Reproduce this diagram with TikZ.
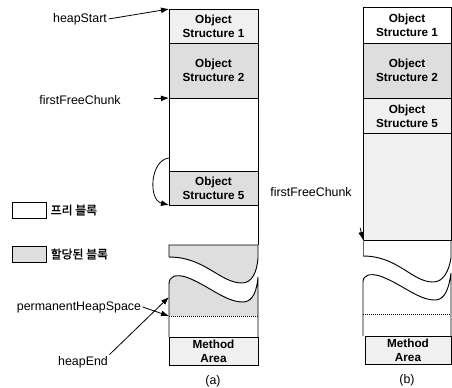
\documentclass[tikz,border=0pt]{standalone}
\usepackage{fontspec}
\setmainfont{Liberation Sans}
\newfontfamily\krfont{Noto Sans CJK KR}[FakeBold=1.4]
\usepackage{tikz}
\usetikzlibrary{arrows.meta, positioning}
\definecolor{Stipple}{gray}{0.87}
\definecolor{LightStipple}{gray}{0.94}
\tikzset{
  cell/.style={draw, line width=0.7pt},
  alloc/.style={cell, fill=Stipple},
  objlabel/.style={align=center, inner sep=0pt, font=\fontsize{8.8}{10.5}\selectfont\bfseries},
  ptr/.style={inner sep=1pt, font=\fontsize{9.3}{11}\selectfont},
  ptrarrow/.style={-{Latex[length=6pt,width=4.4pt]}, line width=0.6pt},
  keybox/.style={cell, minimum width=25.5pt, minimum height=12pt, inner sep=0pt},
  keytext/.style={inner sep=0pt, font=\krfont\fontsize{8.9}{10}\selectfont},
}

\begin{document}
\begin{tikzpicture}[x=0.75pt, y=-0.75pt]
    \useasboundingbox (0,0) rectangle (452,387);

    % column (a)
    \draw[cell, fill=LightStipple] (169,9) rectangle (258,43);
    \draw[alloc] (169,43) rectangle (258,98);
    \draw[cell] (169,98) rectangle (258,171);
    \draw[alloc] (169,171) rectangle (258,205);
    \draw[cell] (258,205) -- (258,245);
    \draw[alloc] (169,257) .. controls (205,257) and (220,283) .. (242,283)
        .. controls (252,283) and (257,272) .. (258,258) -- (258,245) -- (169,245) -- cycle;
    \fill[Stipple] (169,316) -- (169,284) .. controls (169,276) and (176,274) .. (186,277)
        .. controls (208,285) and (225,302) .. (243,302) .. controls (253,302) and (257,290) .. (258,277)
        -- (258,316) -- cycle;
    \draw[cell] (169,337) -- (169,284) .. controls (169,276) and (176,274) .. (186,277)
        .. controls (208,285) and (225,302) .. (243,302) .. controls (253,302) and (257,290) .. (258,277)
        -- (258,337);
    \draw[densely dotted, line width=0.5pt] (169,316) -- (258,316);
    \draw[cell, fill=LightStipple] (169,337) rectangle (258,365);

    \node[objlabel] (os1a) at (213.5,26) {Object\\Structure 1};
    \node[objlabel] (os2a) at (213.5,70) {Object\\Structure 2};
    \node[objlabel] (os5a) at (213.5,188) {Object\\Structure 5};
    \node[objlabel] (mada) at (213.5,351) {Method\\Area};

    % column (b)
    \draw[cell] (363,7) rectangle (451,43);
    \draw[alloc] (363,43) rectangle (451,98);
    \draw[cell, fill=LightStipple] (363,98) rectangle (451,133);
    \draw[cell, fill=LightStipple] (363,133) rectangle (451,240);
    \draw[line width=0.4pt, black!60] (363,240) -- (363,256);
    \draw[cell] (363,256) .. controls (398,256) and (412,282) .. (433,282)
        .. controls (444,282) and (449,270) .. (451,258) -- (451,240);
    \draw[cell] (363,336) -- (363,282) .. controls (363,275) and (370,273) .. (380,276)
        .. controls (402,284) and (418,300) .. (435,300) .. controls (445,300) and (449,288) .. (451,273)
        -- (451,336);
    \draw[densely dotted, line width=0.5pt] (363,314) -- (451,314);
    \draw[cell, fill=LightStipple] (365,336) rectangle (451,364);

    \node[objlabel] (os1b) at (407,25) {Object\\Structure 1};
    \node[objlabel] (os2b) at (407,70) {Object\\Structure 2};
    \node[objlabel] (os5b) at (407,116) {Object\\Structure 5};
    \node[objlabel] (madb) at (408,350) {Method\\Area};

    % pointers
    \coordinate (topa) at (169,9);
    \coordinate (freea) at (169,98);
    \coordinate (loopstart) at (169,158);
    \coordinate (os5corner) at (169,205);
    \coordinate (permtip) at (169,316);
    \coordinate (endtip) at (169,297);
    \coordinate (freeb) at (363,240);

    \node[ptr] (heapstart) at (80,19) {heapStart};
    \node[ptr] (ffca) at (80,100) {firstFreeChunk};
    \node[ptr] (permspace) at (79,307) {permanentHeapSpace};
    \node[ptr] (heapend) at (83,362) {heapEnd};
    \node[ptr] (ffcb) at (311,192) {firstFreeChunk};

    \draw[ptrarrow] (heapstart.east) -- (topa);
    \draw[ptrarrow, shorten <=24pt] (ffca.east) -- (freea);
    \draw[ptrarrow] (loopstart) .. controls (150,160) and (148,200) .. (os5corner);
    \draw[ptrarrow] (permspace.east) -- (permtip);
    \draw[ptrarrow] (heapend.north east) -- (endtip);
    \draw[ptrarrow, shorten <=23pt] (ffcb.south east) -- (freeb);

    % legend
    \node[keybox] (freekey) at (29,210) {};
    \node[keytext, right=3pt of freekey] (freetext) {프리 블록};
    \node[keybox, fill=Stipple] (allockey) at (29,254) {};
    \node[keytext, right=3pt of allockey] (alloctext) {할당된 블록};

    \node[ptr] (capa) at (213,381) {(a)};
    \node[ptr] (capb) at (407,380) {(b)};
\end{tikzpicture}
\end{document}
